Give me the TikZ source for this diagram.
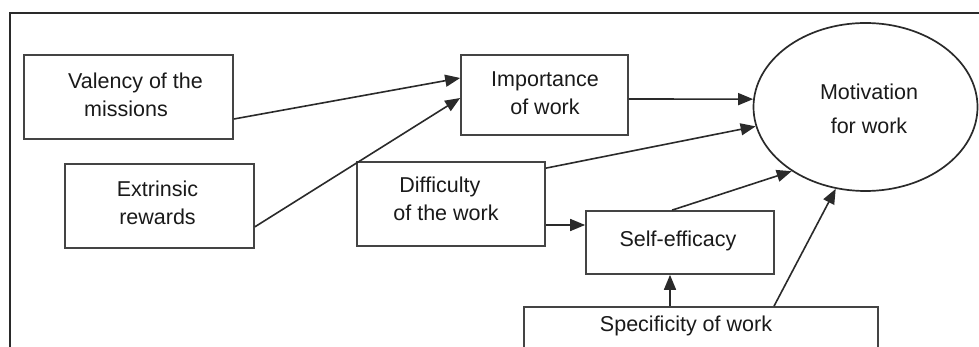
\documentclass[tikz,border=0pt]{standalone}
\usepackage{fontspec}
\setmainfont{Liberation Sans}
\usetikzlibrary{arrows.meta,shapes.geometric}
\definecolor{ln}{HTML}{2A2A2A}
\definecolor{bx}{HTML}{444444}
\definecolor{tx}{HTML}{1A1A1A}
\begin{document}
\begin{tikzpicture}[x=1pt,y=-1pt,
  box/.style={draw=bx,line width=1.7pt,rectangle,inner sep=0pt},
  txt/.style={text=tx,font=\fontsize{21.5}{28}\selectfont,align=center,inner sep=0pt},
  arr/.style={draw=ln,line width=1.6pt,-{Triangle[length=15pt,width=12pt]}},
]
\useasboundingbox (0,0) rectangle (979,347);
\clip (0,0) rectangle (979,347);
\fill[white] (0,0) rectangle (979,347);
% frame
\draw[ln,line width=2pt] (10,360) -- (10,13) -- (990,13);
% boxes
\node[box,minimum width=209pt,minimum height=84pt] (val) at (128.5,97) {};
\node[box,minimum width=189pt,minimum height=84pt] (ext) at (159.5,206) {};
\node[box,minimum width=188pt,minimum height=84pt] (dif) at (451,204) {};
\node[box,minimum width=167pt,minimum height=80pt] (imp) at (544.5,95) {};
\node[box,minimum width=188pt,minimum height=63pt] (self) at (680,242.5) {};
\node[box,minimum width=354pt,minimum height=80pt] (spec) at (701,347) {};
\node[draw=ln,line width=1.7pt,ellipse,minimum width=224pt,minimum height=168pt,inner sep=0pt] (mot) at (865.5,107) {};
% texts
\node[txt,align=left] (valT) at (135.5,95) {Valency of the\\\hspace*{16pt}missions};
\node[txt] (extT) at (157.5,202.5) {Extrinsic\\rewards};
\node[txt,align=left] (difT) at (446,198.5) {\hspace*{6pt}Difficulty\\of the work};
\node[txt] (impT) at (545,93.5) {Importance\\of work};
\node[txt,font=\fontsize{21.5}{34}\selectfont] (motT) at (869,109) {Motivation\\for work};
\node[txt] (selfT) at (678,241) {Self-efficacy};
\node[txt] (specT) at (686,326) {Specificity of work};
% arrows
\draw[arr] ([yshift=-22pt]val.east) -- ([yshift=17pt]imp.west);
\draw[arr] ([yshift=22pt]ext.south east) -- ([yshift=-3pt]imp.west);
\draw[arr] ([yshift=-4pt]imp.east) -- (mot.176);
\draw[arr] ([yshift=-7pt]dif.north east) -- (mot.190);
\draw[arr] ([yshift=-21pt]dif.east) -- (self.west |- 0,225);
\draw[arr] ([xshift=-8pt]self.north) -- (mot.221);
\draw[arr] (spec.north -| 670,0) -- (self.south -| 670,0);
\draw[arr] (spec.north -| 774,0) -- (mot.250);
\end{tikzpicture}
\end{document}
